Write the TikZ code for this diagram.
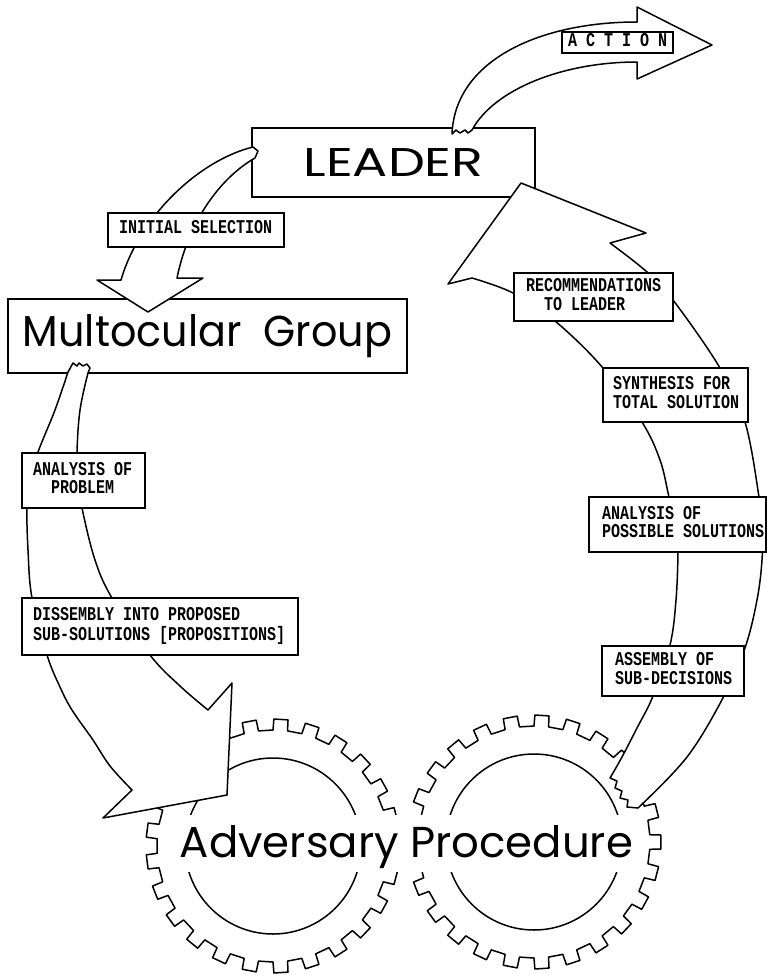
\documentclass[tikz,border=0pt]{standalone}
\usepackage{fontspec}
\usepackage{graphicx}
\newfontfamily\headfont{Poppins}
\newfontfamily\typefont{Liberation Mono}
% typewritten caption: fixed inner width, left aligned, narrowed letters
\newcommand\tlines[2]{\makebox[#1pt][l]{\scalebox{0.77}[1]{\begin{tabular}{@{}l@{}}#2\end{tabular}}}}

\begin{document}
\begin{tikzpicture}[x=1pt,y=-1pt,
  ink/.style={line width=1.5pt, line join=round},
  boxline/.style={draw, line width=1.7pt, fill=white},
  capbox/.style={boxline, inner ysep=0pt, font=\typefont\bfseries\fontsize{19.5}{18}\selectfont},
  band/.style={ink, draw, fill=white},
  gearline/.style={ink, draw},
  bigtext/.style={font=\headfont, inner sep=0pt}
]
\useasboundingbox (0,0) rectangle (767,975);

% ---- the two gears ----
\begin{scope}[shift={(273,846)}]
  \draw[gearline] (-3.6:116) \foreach \k in {0,...,24}{ -- ({\k*14.4-3.6}:116) -- ({\k*14.4-3.2}:127) -- ({\k*14.4+3.2}:127) -- ({\k*14.4+3.6}:116)} -- cycle;
  \draw[gearline] (0,0) circle[radius=88];
\end{scope}
\begin{scope}[shift={(534,842)}]
  \draw[gearline] (-3.6:116) \foreach \k in {0,...,24}{ -- ({\k*14.4-3.6}:116) -- ({\k*14.4-3.2}:127) -- ({\k*14.4+3.2}:127) -- ({\k*14.4+3.6}:116)} -- cycle;
  \draw[gearline] (0,0) circle[radius=88];
\end{scope}

% ---- main boxes ----
\node[boxline, minimum width=283, minimum height=69, inner sep=0pt] (leader) at (393.5,162.5)
  {\headfont\resizebox{180pt}{28pt}{LEADER}};
\node[boxline, minimum width=399, minimum height=74, inner sep=0pt] (group) at (207.5,336)
  {\headfont\resizebox{369pt}{32pt}{Multocular\ \ Group}};

% ---- ACTION arrow out of the leader ----
\draw[band] (452,134) -- (456,130) -- (460,133) -- (465,130) -- (468,133) -- (472,130)
  .. controls (495,88) and (565,62) .. (637,62) -- (637,79) -- (712,45) -- (637,7) -- (637,22)
  .. controls (540,22) and (455,60) .. (452,134) -- cycle;

% ---- initial selection arrow ----
\draw[band] (253,147) -- (258,151) -- (255,158)
  .. controls (225,175) and (190,215) .. (177,278) -- (203,278) -- (148,312) -- (97,280) -- (121,280)
  .. controls (140,215) and (200,160) .. (253,147) -- cycle;

% ---- arrow from the group down into the gears ----
\draw[band] (68,372) -- (73,363) -- (77,366) -- (79,363) -- (83,366) -- (87,364) -- (90,368) -- (88,373)
  -- plot[smooth, tension=0.6] coordinates {(88,373) (80,410) (77,452) (78,480) (82,508) (95,560) (112,598) (150,655) (180,686) (208,710)}
  -- (232,683) -- (227,795) -- (103,818) -- (132,790)
  -- plot[smooth, tension=0.6] coordinates {(132,790) (110,766) (93,740) (72,710) (60,687) (47,655) (32,598) (28,550) (27,508) (30,480) (38,452) (55,410) (68,372)}
  -- cycle;

% ---- arrow from the gears back up to the leader ----
\draw[band] plot[smooth, tension=0.6] coordinates {(638,808) (687,757) (724,696) (745,648) (757,600) (762,560) (762,528) (759,497) (745,422) (720,368) (673,300) (647,272) (610,243)}
  -- (646,233) -- (521,183) -- (448,284) -- (472,278)
  -- plot[smooth, tension=0.6] coordinates {(472,278) (513,293) (555,321) (603,368) (642,422) (660,460) (669,497) (677,530) (678,552) (676,600) (670,645) (653,696) (637,728) (622,757) (610,778)}
  -- (617,781) -- (615,788) -- (622,791) -- (620,798) -- (628,800) -- (627,807) -- (638,808) -- cycle;

% ---- typed captions ----
\node[capbox, inner xsep=6pt, minimum height=21] (action) at (617.5,42.5) {\tlines{99}{A C T I O N}};
\node[capbox, inner xsep=11pt, minimum height=34] (initsel) at (196,230) {\tlines{154}{INITIAL SELECTION}};
\node[capbox, inner xsep=11pt, minimum height=55] (anprob) at (83.5,480.5) {\tlines{101}{ANALYSIS OF\\\ \ PROBLEM}};
\node[capbox, inner xsep=11pt, minimum height=57] (dissem) at (160,626.5) {\tlines{254}{DISSEMBLY INTO PROPOSED\\SUB-SOLUTIONS [PROPOSITIONS]}};
\node[capbox, inner xsep=12pt, minimum height=48] (recom) at (593.5,297) {\tlines{135}{RECOMMENDATIONS\\\ \ TO LEADER}};
\node[capbox, inner xsep=10pt, minimum height=54] (synth) at (675.5,395) {\tlines{125}{SYNTHESIS FOR\\TOTAL SOLUTION}};
\node[capbox, inner xsep=13pt, minimum height=55] (anposs) at (677.5,524.5) {\tlines{151}{ANALYSIS OF\\POSSIBLE SOLUTIONS}};
\node[capbox, inner xsep=13pt, minimum height=50] (assem) at (673,671) {\tlines{116}{ASSEMBLY OF\\SUB-DECISIONS}};

% ---- title across the gears ----
\node[bigtext, fill=white, inner xsep=5pt, text height=42pt, text depth=15pt, anchor=base] (advproc) at (406.5,857)
  {\resizebox{453pt}{32pt}{Adversary Procedure}};
\end{tikzpicture}
\end{document}
